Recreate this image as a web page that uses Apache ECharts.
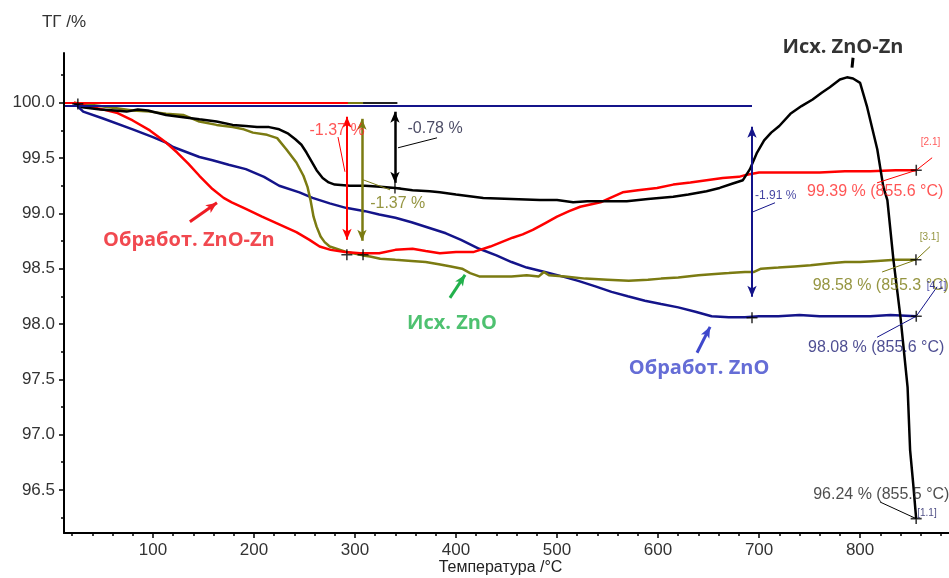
<!DOCTYPE html>
<html>
<head>
<meta charset="utf-8">
<title>ТГ</title>
<script src="https://cdn.jsdelivr.net/npm/echarts@6/dist/echarts.min.js"></script>
<style>
  html, body { margin: 0; padding: 0; background: #fff; }
  #chart { width: 949px; height: 578px; }
</style>
</head>
<body>
<div id="chart"></div>
<script>
// температура, °C / масса, %
const blackZnOZn = [
  [22, 100.0], [30, 99.96], [48, 99.94], [62, 99.93], [74, 99.92], [85, 99.94], [95, 99.93],
  [113, 99.89], [130, 99.87], [146, 99.85], [163, 99.83], [179, 99.80], [192, 99.79], [203, 99.78],
  [215, 99.78], [225, 99.76], [234, 99.72], [241, 99.67], [247, 99.62], [252, 99.55], [257, 99.47],
  [262, 99.39], [268, 99.32], [274, 99.28], [280, 99.26], [295, 99.25], [310, 99.25], [325, 99.24],
  [340, 99.23], [357, 99.21], [374, 99.20], [384, 99.19], [400, 99.17], [427, 99.14], [455, 99.13],
  [483, 99.12], [500, 99.12], [516, 99.10], [530, 99.11], [543, 99.11], [569, 99.11], [590, 99.13],
  [615, 99.15], [630, 99.17], [648, 99.20], [661, 99.23], [674, 99.27], [684, 99.30], [691, 99.40],
  [698, 99.55], [705, 99.66], [712, 99.73], [720, 99.79], [731, 99.90], [742, 99.97], [753, 100.03],
  [762, 100.09], [770, 100.14], [780, 100.21], [787, 100.23], [793, 100.22], [800, 100.18],
  [807, 99.96], [817, 99.58], [823, 99.24], [827, 99.12], [833, 98.58], [840, 98.06], [847, 97.43],
  [849.5, 96.86], [852.5, 96.56], [855.5, 96.24]
]
const redZnOZn = [
  [22, 100.0], [35, 99.97], [50, 99.94], [64, 99.91], [80, 99.84], [97, 99.75], [113, 99.64],
  [124, 99.55], [135, 99.45], [146, 99.34], [159, 99.22], [170, 99.14], [178, 99.10], [192, 99.04],
  [208, 98.97], [225, 98.90], [242, 98.83], [255, 98.76], [265, 98.70], [276, 98.67], [290, 98.65],
  [305, 98.64], [324, 98.64], [340, 98.67], [357, 98.68], [370, 98.66], [384, 98.64], [400, 98.65],
  [417, 98.65], [434, 98.70], [445, 98.74], [456, 98.78], [466, 98.81], [476, 98.85], [488, 98.91],
  [500, 98.97], [512, 99.02], [523, 99.06], [543, 99.10], [555, 99.15], [565, 99.19], [580, 99.21],
  [599, 99.23], [615, 99.26], [632, 99.28], [648, 99.30], [664, 99.32], [680, 99.33], [688, 99.35],
  [700, 99.37], [720, 99.37], [740, 99.37], [760, 99.37], [785, 99.38], [810, 99.38], [835, 99.39],
  [855.6, 99.39]
]
const oliveZnO = [
  [22, 100.0], [40, 99.98], [64, 99.95], [80, 99.93], [97, 99.92], [113, 99.90], [130, 99.89],
  [146, 99.83], [163, 99.80], [179, 99.78], [190, 99.76], [199, 99.73], [213, 99.71], [223, 99.68],
  [232, 99.58], [242, 99.46], [249, 99.34], [253, 99.24], [256, 99.12], [259, 98.97], [262, 98.88],
  [266, 98.79], [270, 98.74], [275, 98.70], [292, 98.65], [308, 98.62], [315, 98.61], [325, 98.59],
  [340, 98.58], [356, 98.57], [370, 98.56], [383, 98.54], [395, 98.52], [406, 98.50], [414, 98.46],
  [423, 98.43], [440, 98.43], [455, 98.43], [470, 98.44], [482, 98.43], [487, 98.47], [492, 98.44],
  [508, 98.43], [528, 98.41], [550, 98.40], [571, 98.39], [590, 98.40], [603, 98.41], [620, 98.42],
  [640, 98.44], [653, 98.45], [670, 98.46], [686, 98.47], [695, 98.47], [702, 98.50], [719, 98.51],
  [735, 98.52], [751, 98.53], [770, 98.55], [785, 98.56], [800, 98.56], [817, 98.57], [835, 98.58],
  [855.3, 98.58]
]
const navyZnO = [
  [22, 100.0], [31, 99.92], [50, 99.86], [80, 99.76], [100, 99.69], [113, 99.64], [120, 99.60],
  [146, 99.51], [159, 99.48], [175, 99.44], [192, 99.40], [210, 99.33], [225, 99.25], [245, 99.19],
  [258, 99.14], [275, 99.09], [291, 99.05], [310, 99.02], [324, 98.99], [340, 98.96], [356, 98.92],
  [373, 98.87], [390, 98.82], [405, 98.76], [423, 98.68], [440, 98.62], [455, 98.56], [470, 98.51],
  [488, 98.47], [505, 98.43], [521, 98.39], [538, 98.34], [554, 98.29], [570, 98.25], [587, 98.21],
  [603, 98.18], [620, 98.15], [637, 98.11], [653, 98.07], [670, 98.06], [686, 98.06], [700, 98.07],
  [719, 98.07], [740, 98.08], [760, 98.07], [785, 98.07], [810, 98.07], [830, 98.08], [855.6, 98.07]
]

// точки "+" (начало, ступени, концы кривых)
const stepMarks = [[25.7, 99.99], [292, 98.625], [308, 98.625], [339.6, 99.23], [693, 98.056],
  [855.6, 99.39], [855.3, 98.58], [855.6, 98.07], [855.5, 96.24]]

const xTicks = [100, 200, 300, 400, 500, 600, 700, 800]
const xMinor = [20, 40, 60, 80, 120, 140, 160, 180, 220, 240, 260, 280, 320, 340, 360, 380, 420, 440,
  460, 480, 520, 540, 560, 580, 620, 640, 660, 680, 720, 740, 760, 780, 820, 840, 860, 880]
const yTicks = [96.5, 97.0, 97.5, 98.0, 98.5, 99.0, 99.5, 100.0]
const yMinor = [96.25, 96.75, 97.25, 97.75, 98.25, 98.75, 99.25, 99.75, 100.25]

const RED = '#ff0000'
const BLACK = '#000000'
const OLIVE = '#7b7b12'
const NAVY = '#14148a'
const FONT = '"Liberation Sans", Arial, sans-serif'
const BOLD = '"Open Sans", "Noto Sans", sans-serif'

const chart = echarts.init(document.getElementById('chart'))

// отрезок для markLine
const seg = (a, b, color, width, endSym, startSym) => [
  { coord: a, symbol: startSym || 'none', symbolSize: [7, 11], lineStyle: { color, width, type: 'solid' } },
  { coord: b, symbol: endSym || 'none', symbolSize: [7, 11] }
]

const curve = (name, data, color, marks) => ({
  name,
  type: 'line',
  data,
  showSymbol: false,
  symbol: 'none',
  lineStyle: { color, width: 2.5 },
  itemStyle: { color },
  z: 3,
  markLine: {
    silent: true,
    animation: false,
    label: { show: false },
    emphasis: { disabled: true },
    data: marks
  }
})

// подписи
const notes = [
  { text: '-1.37 %', at: [255, 99.745], color: '#ff2a2a', size: 16 },
  { text: '-0.78 %', at: [352, 99.765], color: '#1c1c3c', size: 16 },
  { text: '-1.37 %', at: [315, 99.09], color: OLIVE, size: 16 },
  { text: '-1.91 %', at: [696, 99.16], color: NAVY, size: 12 },
  { text: '[2.1]', at: [860, 99.64], color: '#ff3030', size: 10 },
  { text: '99.39 % (855.6 °C)', at: [747.5, 99.195], color: '#ff2a2a', size: 16 },
  { text: '[3.1]', at: [859, 98.78], color: OLIVE, size: 10 },
  { text: '98.58 % (855.3 °C)', at: [753, 98.345], color: OLIVE, size: 16 },
  { text: '[4.1]', at: [866, 98.345], color: NAVY, size: 10 },
  { text: '98.08 % (855.6 °C)', at: [748.5, 97.79], color: '#222277', size: 16 },
  { text: '96.24 % (855.5 °C)', at: [753.5, 96.455], color: '#222222', size: 16 },
  { text: '[1.1]', at: [856.5, 96.29], color: '#222266', size: 10 }
]
const titles = [
  { text: 'Исх. ZnO-Zn', at: [783, 100.506], color: '#000000' },
  { text: 'Обработ. ZnO-Zn', at: [135.6, 98.76], color: '#ee1c24' },
  { text: 'Исх. ZnO', at: [396, 98.01], color: '#22b14c' },
  { text: 'Обработ. ZnO', at: [640.6, 97.6], color: '#3f48cc' }
]

chart.setOption({
  animation: false,
  backgroundColor: '#ffffff',
  grid: { left: 64, right: 0, top: 53, bottom: 45, containLabel: false, outerBoundsMode: 'none' },
  xAxis: [
    {
      type: 'value',
      min: 12,
      max: 888,
      position: 'bottom',
      name: 'Температура /°C',
      nameLocation: 'middle',
      nameGap: 27,
      nameMoveOverlap: false,
      nameTextStyle: { fontFamily: FONT, fontSize: 16, color: '#222', padding: [0, 12, 0, 0] },
      axisLine: { show: true, onZero: false, lineStyle: { color: '#000', width: 2 } },
      axisTick: { show: true, customValues: xTicks, length: 5, lineStyle: { color: '#000', width: 1.5 } },
      axisLabel: { customValues: xTicks, fontFamily: FONT, fontSize: 17, color: '#333', margin: 9 },
      splitLine: { show: false }
    },
    {
      type: 'value',
      min: 12,
      max: 888,
      position: 'bottom',
      axisLine: { show: false },
      axisTick: { show: true, customValues: xMinor, length: 3, lineStyle: { color: '#000', width: 1.5 } },
      axisLabel: { show: false },
      splitLine: { show: false }
    }
  ],
  yAxis: [
    {
      type: 'value',
      min: 96.11,
      max: 100.45,
      position: 'left',
      name: 'ТГ /%',
      nameLocation: 'end',
      nameGap: 22,
      nameTextStyle: { fontFamily: FONT, fontSize: 17, color: '#333', align: 'center' },
      axisLine: { show: true, onZero: false, lineStyle: { color: '#000', width: 2 } },
      axisTick: { show: true, customValues: yTicks, length: 5, lineStyle: { color: '#000', width: 1.5 } },
      axisLabel: {
        customValues: yTicks,
        fontFamily: FONT,
        fontSize: 17,
        color: '#333',
        margin: 9,
        formatter: (v) => v.toFixed(1)
      },
      splitLine: { show: false }
    },
    {
      type: 'value',
      min: 96.11,
      max: 100.45,
      position: 'left',
      axisLine: { show: false },
      axisTick: { show: true, customValues: yMinor, length: 3, lineStyle: { color: '#000', width: 1.5 } },
      axisLabel: { show: false },
      splitLine: { show: false }
    }
  ],
  series: [
    curve('Обработ. ZnO', navyZnO, NAVY, [
      seg([13, 99.975], [693, 99.975], NAVY, 2),
      seg([693, 99.783], [693, 98.245], NAVY, 2, 'arrow', 'arrow'),
      seg([694, 99.014], [715.8, 99.096], NAVY, 1),
      seg([855.6, 98.07], [876.2, 98.336], NAVY, 1),
      seg([855.6, 98.07], [816.8, 97.88], NAVY, 1),
      seg([638.6, 97.74], [651.5, 97.974], '#3f48cc', 3, 'arrow')
    ]),
    curve('Исх. ZnO', oliveZnO, OLIVE, [
      seg([13, 100.0], [308, 100.0], OLIVE, 2),
      seg([306.9, 99.855], [306.9, 98.752], OLIVE, 2.5, 'arrow', 'arrow'),
      seg([307.9, 99.304], [334.7, 99.213], OLIVE, 1),
      seg([855.3, 98.58], [869.3, 98.70], OLIVE, 1),
      seg([855.3, 98.58], [821.8, 98.47], OLIVE, 1),
      seg([394, 98.236], [409, 98.444], '#22b14c', 3, 'arrow')
    ]),
    curve('Обработ. ZnO-Zn', redZnOZn, RED, [
      seg([13, 100.0], [293, 100.0], RED, 2),
      seg([292.1, 99.873], [292.1, 98.761], RED, 2, 'arrow', 'arrow'),
      seg([283.2, 99.69], [290.1, 99.376], RED, 1),
      seg([855.6, 99.39], [871.3, 99.503], RED, 1),
      seg([855.6, 99.39], [816.8, 99.276], RED, 1),
      seg([136.6, 98.924], [163.4, 99.096], '#ee1c24', 3, 'arrow')
    ]),
    curve('Исх. ZnO-Zn', blackZnOZn, BLACK, [
      seg([308, 100.0], [342, 100.0], '#222', 2),
      seg([339.6, 99.919], [339.6, 99.276], BLACK, 2.5, 'arrow', 'arrow'),
      seg([381.2, 99.683], [342.6, 99.593], BLACK, 1),
      seg([855.5, 96.24], [819.8, 96.39], BLACK, 1),
      seg([792, 100.317], [793, 100.407], BLACK, 3)
    ]),
    {
      name: 'marks',
      type: 'scatter',
      data: stepMarks,
      symbol: 'path://M0,4.3H10V5.7H0Z M4.3,0H5.7V10H4.3Z',
      symbolSize: 11,
      itemStyle: { color: '#000' },
      clip: false,
      silent: true,
      z: 5
    },
    {
      name: 'notes',
      type: 'scatter',
      symbolSize: 0.1,
      itemStyle: { color: 'transparent' },
      clip: false,
      silent: true,
      z: 6,
      data: notes.map((n) => ({
        value: n.at,
        label: {
          show: true,
          position: 'right',
          distance: 0,
          formatter: n.text,
          color: n.color,
          fontSize: n.size,
          fontFamily: FONT
        }
      }))
    },
    {
      name: 'titles',
      type: 'scatter',
      symbolSize: 0.1,
      itemStyle: { color: 'transparent' },
      clip: false,
      silent: true,
      z: 6,
      data: titles.map((t) => ({
        value: t.at,
        label: {
          show: true,
          position: 'inside',
          formatter: t.text,
          color: t.color,
          fontSize: 20,
          fontWeight: 'bold',
          fontFamily: BOLD
        }
      }))
    }
  ]
})
</script>
</body>
</html>
